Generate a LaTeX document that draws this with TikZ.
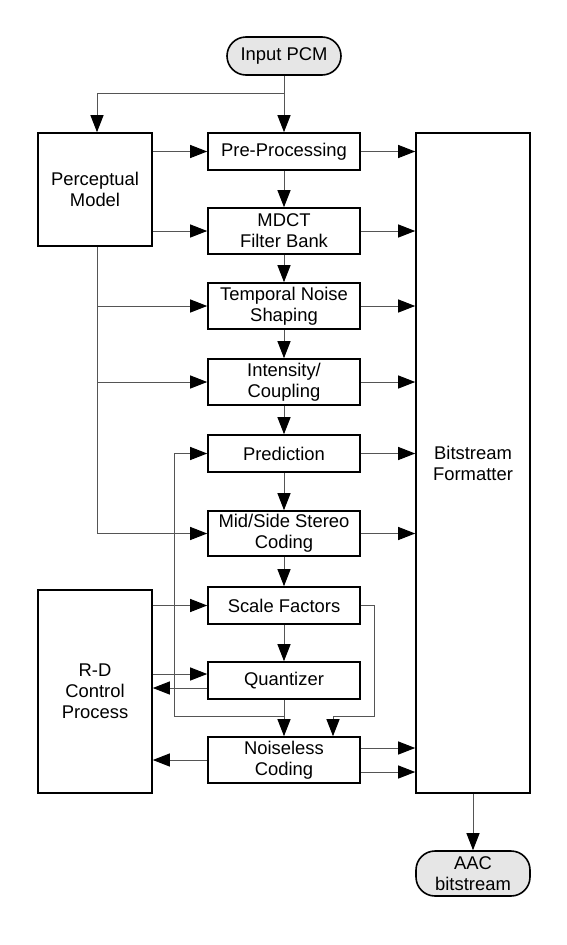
\documentclass[tikz,border=0pt]{standalone}
\usepackage{fontspec}
\setmainfont{Liberation Sans}
\usetikzlibrary{arrows.meta,positioning,calc}
\definecolor{aacline}{HTML}{555555}
\definecolor{aacfill}{HTML}{E6E6E6}

\tikzset{
  block/.style={draw=black,line width=1.6pt,fill=white,inner sep=0pt,align=center,
    font=\fontsize{18.4}{21}\selectfont},
  termnode/.style={block,fill=aacfill,rounded corners=19pt},
  flow/.style={draw=aacline,line width=1pt,
    -{Triangle[length=17pt,width=13pt,color=black]}},
  wire/.style={draw=aacline,line width=1pt}
}

\begin{document}
\begin{tikzpicture}[x=1pt,y=-1pt]

  % ---- Canvas -----------------------------------------------
  \useasboundingbox (0,0) rectangle (567,945);

  % ---- Terminals --------------------------------------------
  \node[termnode,minimum width=114pt,minimum height=38pt] (pcm) at (284,56) {Input PCM};
  \node[termnode,minimum width=114pt,minimum height=45pt] (aac) at (473,873.5)
    {AAC\\bitstream};

  % ---- Side blocks ------------------------------------------
  \node[block,minimum width=114pt,minimum height=113pt] (percep) at (95,189.5)
    {Perceptual\\Model};
  \node[block,minimum width=114pt,minimum height=203pt] (rdc) at (95,691.5)
    {R-D\\Control\\Process};
  \node[block,minimum width=114pt,minimum height=660pt] (bsf) at (473,463)
    {Bitstream\\Formatter};

  % ---- Coding chain -----------------------------------------
  \node[block,minimum width=152pt,minimum height=37pt] (pre)   at (284,151.5) {Pre-Processing};
  \node[block,minimum width=152pt,minimum height=46pt] (mdct)  at (284,231)   {MDCT\\Filter Bank};
  \node[block,minimum width=152pt,minimum height=46pt] (tns)   at (284,306)   {Temporal Noise\\Shaping};
  \node[block,minimum width=152pt,minimum height=46pt] (ics)   at (284,382)   {Intensity/\\Coupling};
  \node[block,minimum width=152pt,minimum height=37pt] (pred)  at (284,453.5) {Prediction};
  \node[block,minimum width=152pt,minimum height=45pt] (msc)   at (284,533.5) {Mid/Side Stereo\\Coding};
  \node[block,minimum width=152pt,minimum height=37pt] (sfac)  at (284,605.5) {Scale Factors};
  \node[block,minimum width=152pt,minimum height=37pt] (quant) at (284,680.5) {Quantizer};
  \node[block,minimum width=152pt,minimum height=46pt] (nless) at (284,760)   {Noiseless\\Coding};

  % ---- Helper points ----------------------------------------
  \coordinate (split) at (284,93);
  \coordinate (qtap)  at (284,716);
  \coordinate (fbk)   at (174,716);
  \coordinate (sfr)   at (374,716);

  % ---- Input split ------------------------------------------
  \draw[flow] (pcm) -- (pre);
  \draw[flow] (split) -| ([xshift=2pt]percep.north);

  % ---- Main chain -------------------------------------------
  \draw[flow] (pre) -- (mdct);
  \draw[flow] (mdct) -- (tns);
  \draw[flow] (tns) -- (ics);
  \draw[flow] (ics) -- (pred);
  \draw[flow] (pred) -- (msc);
  \draw[flow] (msc) -- (sfac);
  \draw[flow] (sfac) -- (quant);
  \draw[flow] (quant) -- (nless);

  % ---- Perceptual model control -----------------------------
  \draw[flow] (percep.east |- pre) -- (pre);
  \draw[flow] (percep.east |- mdct) -- (mdct);
  \draw[wire] ([xshift=2pt]percep.south) -- ([xshift=2pt]percep.south |- msc);
  \draw[flow] ([xshift=2pt]percep.south |- tns) -- (tns);
  \draw[flow] ([xshift=2pt]percep.south |- ics) -- (ics);
  \draw[flow] ([xshift=2pt]percep.south |- msc) -- (msc);

  % ---- Side info to formatter -------------------------------
  \foreach \blk in {pre,mdct,tns,ics,pred,msc}
    \draw[flow] (\blk) -- (\blk -| bsf.west);
  \draw[flow] ([yshift=12pt]nless.east) -- ([yshift=12pt]nless.east -| bsf.west);
  \draw[flow] ([yshift=-12pt]nless.east) -- ([yshift=-12pt]nless.east -| bsf.west);
  \draw[flow] (bsf) -- (aac);

  % ---- Feedback loops ---------------------------------------
  \draw[flow] (qtap) -- (fbk) |- (pred.west);
  \draw[flow] (sfac.east) -| (sfr) -| ([xshift=49pt]nless.north);

  % ---- Rate-distortion control ------------------------------
  \draw[flow] (rdc.east |- sfac) -- (sfac);
  \draw[flow] ([yshift=6.5pt]rdc.east |- quant) -- ([yshift=6.5pt]quant.west);
  \draw[flow] ([yshift=-7.5pt]quant.west) -- ([yshift=-7.5pt]rdc.east |- quant);
  \draw[flow] (nless) -- (nless -| rdc.east);

\end{tikzpicture}
\end{document}
